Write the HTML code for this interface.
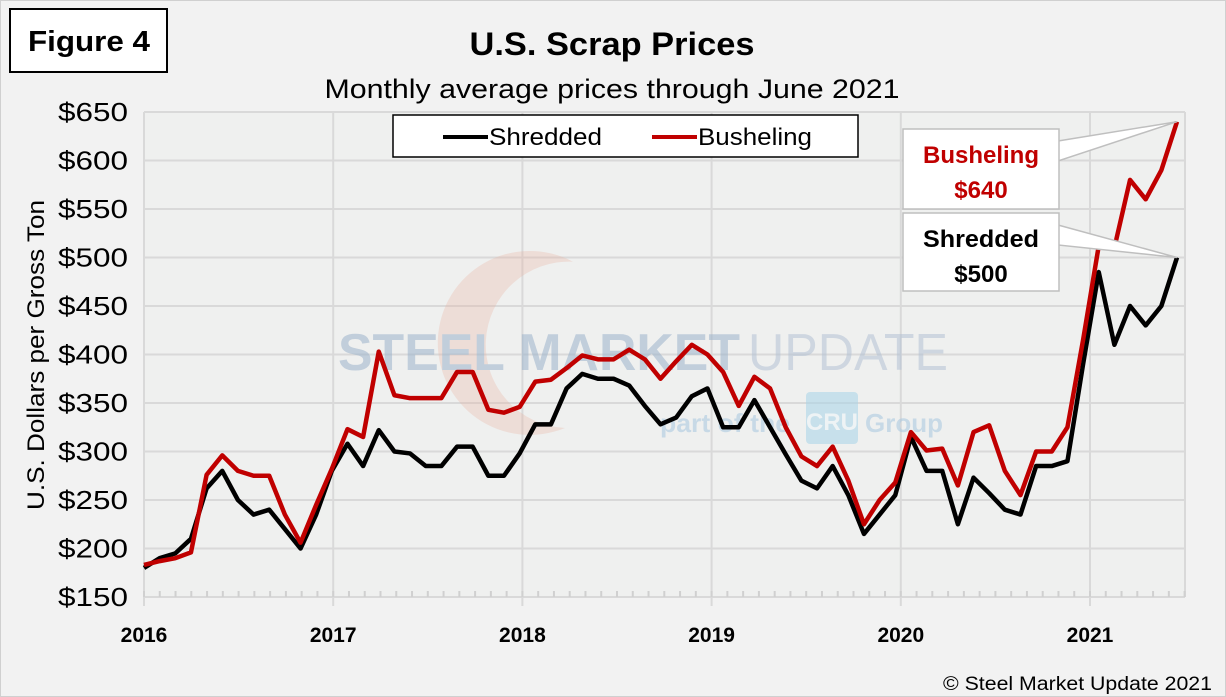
<!DOCTYPE html>
<html><head><meta charset="utf-8"><style>
html,body{margin:0;padding:0;background:#f2f2f2;}
svg{display:block;font-family:"Liberation Sans",Arial,sans-serif;}
</style></head><body>
<svg id="chart" width="1226" height="697" viewBox="0 0 1226 697">
<rect x="0.5" y="0.5" width="1225" height="696" fill="#f2f2f2" stroke="#d0d0d0"/>
<rect x="144" y="112" width="1041" height="485" fill="#eff0ef"/>
<g id="grid"></g>
<g opacity="0.55">
<path d="M610,300 A92,92 0 1 0 520,440 A80,80 0 1 1 610,300 Z" fill="#e8b0a0" opacity="0.55" transform="rotate(-30 520 350)"/>
<text x="338" y="370" font-size="52" font-weight="bold" fill="#9db4cc" textLength="402" lengthAdjust="spacingAndGlyphs">STEEL MARKET</text>
<text x="748" y="370" font-size="52" fill="#b4c2d4" textLength="200" lengthAdjust="spacingAndGlyphs">UPDATE</text>
<text x="660" y="432" font-size="26" font-weight="bold" fill="#a8c8e0" textLength="130" lengthAdjust="spacingAndGlyphs">part of the</text>
<rect x="806" y="392" width="52" height="52" rx="4" fill="#a8d4e8"/>
<text x="832" y="430" font-size="24" font-weight="bold" text-anchor="middle" fill="#eef6fa">CRU</text>
<text x="865" y="432" font-size="26" font-weight="bold" fill="#a8c8e0" textLength="78" lengthAdjust="spacingAndGlyphs">Group</text>
</g>
<g id="axes"></g>
<g id="series"></g>
<rect x="10" y="9" width="157" height="63" fill="#fff" stroke="#000" stroke-width="2"/>
<text x="89" y="51" font-size="29" font-weight="bold" text-anchor="middle" textLength="122" lengthAdjust="spacingAndGlyphs">Figure 4</text>
<text x="612" y="55" font-size="32" font-weight="bold" text-anchor="middle" textLength="285" lengthAdjust="spacingAndGlyphs">U.S. Scrap Prices</text>
<text x="612" y="98" font-size="27" text-anchor="middle" textLength="575" lengthAdjust="spacingAndGlyphs">Monthly average prices through June 2021</text>
<g>
<rect x="393" y="115" width="465" height="42" fill="#fff" stroke="#000" stroke-width="1.5"/>
<line x1="443" y1="137" x2="488" y2="137" stroke="#000" stroke-width="4"/>
<text x="489" y="145" font-size="24" textLength="113" lengthAdjust="spacingAndGlyphs">Shredded</text>
<line x1="652" y1="137" x2="697" y2="137" stroke="#c00000" stroke-width="4"/>
<text x="698" y="145" font-size="24" textLength="114" lengthAdjust="spacingAndGlyphs">Busheling</text>
</g>
<text transform="translate(44,355) rotate(-90)" font-size="24" text-anchor="middle" textLength="310" lengthAdjust="spacingAndGlyphs">U.S. Dollars per Gross Ton</text>
<g id="callouts"></g>
<text x="1212" y="690" font-size="19" text-anchor="end" textLength="269" lengthAdjust="spacingAndGlyphs">© Steel Market Update 2021</text>
</svg>
<script>
const shredded = [180,190,195,210,262,280,250,235,240,220,200,235,
280,308,285,322,300,298,285,285,305,305,275,275,
298,328,328,365,380,375,375,368,347,328,335,357,
365,325,325,353,325,297,270,262,285,255,215,235,
255,315,280,280,225,273,257,240,235,285,285,290,
390,485,410,450,430,450,500];
const busheling = [183,187,190,196,276,296,280,275,275,235,206,245,
282,323,315,403,358,355,355,355,382,382,343,340,
346,372,374,386,399,395,395,405,395,375,393,410,
400,382,347,377,365,325,295,285,305,270,225,250,
268,320,301,303,265,320,327,280,255,300,300,325,
415,512,510,580,560,590,640];
const yTicks = [150,200,250,300,350,400,450,500,550,600,650];
const yearLabels = ["2016","2017","2018","2019","2020","2021"];
const yearStartIdx = [0,12,24,36,48,60];

const NS="http://www.w3.org/2000/svg";
const X0=144, XN=1177, Y0=597, Y1=112, VMIN=150, VMAX=650;
const n=shredded.length;
function xs(i){return X0+(XN-X0)*i/(n-1);}
function ys(v){return Y0-(v-VMIN)/(VMAX-VMIN)*(Y0-Y1);}
function mk(tag,attrs,parent){const e=document.createElementNS(NS,tag);for(const k in attrs)e.setAttribute(k,attrs[k]);parent.appendChild(e);return e;}
const grid=document.getElementById('grid'), axes=document.getElementById('axes'), series=document.getElementById('series'), co=document.getElementById('callouts');
yTicks.forEach(v=>{
  const l=mk('line',{x1:X0,x2:1185,y1:ys(v),y2:ys(v),stroke:'#d9d9d9','stroke-width':2},grid);
  
  
  const t=mk('text',{x:128,y:ys(v)+9,'font-size':26,'text-anchor':'end',textLength:70,lengthAdjust:'spacingAndGlyphs'},axes);
  t.textContent='$'+v;
  
  
});
yearLabels.forEach((lab,k)=>{
  const x=X0+(1090-X0)*yearStartIdx[k]/60;
  const l=mk('line',{x1:x,x2:x,y1:Y1,y2:606,stroke:'#d9d9d9','stroke-width':2},grid);
  
  
  const t=mk('text',{x:x,y:642,'font-size':21,'font-weight':'bold','text-anchor':'middle'},axes);
  t.textContent=lab;
  
  
});
mk('line',{x1:1185,x2:1185,y1:Y1,y2:Y0,stroke:'#d9d9d9','stroke-width':2},grid);
for(let i=0;i<n;i++){const x=X0+(1090-X0)*i/60; if(x>1185)break; mk('line',{x1:x,x2:x,y1:591,y2:597,stroke:'#d0d0d0','stroke-width':2},grid);}
function line(arr,color,name){
  const p=mk('polyline',{points:arr.map((v,i)=>xs(i)+','+ys(v)).join(' '),fill:'none',stroke:color,'stroke-width':4.5,'stroke-linejoin':'round'},series);
  
  
}
line(shredded,'#000','shredded-line');
line(busheling,'#c00000','busheling-line');
function callout(y,h,name,lab,val,color,arr){
  const px=xs(n-1), py=ys(arr[n-1]);
  const g=mk('g',{},co);
  
  
  mk('polygon',{points:`1058,${y+12} ${px},${py} 1058,${y+32}`,fill:'#fff',stroke:'#bfbfbf','stroke-width':1.5},g);
  mk('rect',{x:903,y:y,width:156,height:h,fill:'#fff',stroke:'#bfbfbf','stroke-width':1.5},g);
  const t1=mk('text',{x:981,y:y+34,'font-size':24,'font-weight':'bold','text-anchor':'middle',fill:color,textLength:116,lengthAdjust:'spacingAndGlyphs'},g);t1.textContent=lab;
  const t2=mk('text',{x:981,y:y+69,'font-size':24,'font-weight':'bold','text-anchor':'middle',fill:color},g);t2.textContent='$'+val;
}
callout(129,80,'busheling-callout','Busheling',busheling[n-1],'#c00000',busheling);
callout(213,78,'shredded-callout','Shredded',shredded[n-1],'#000',shredded);
</script>
</body></html>
